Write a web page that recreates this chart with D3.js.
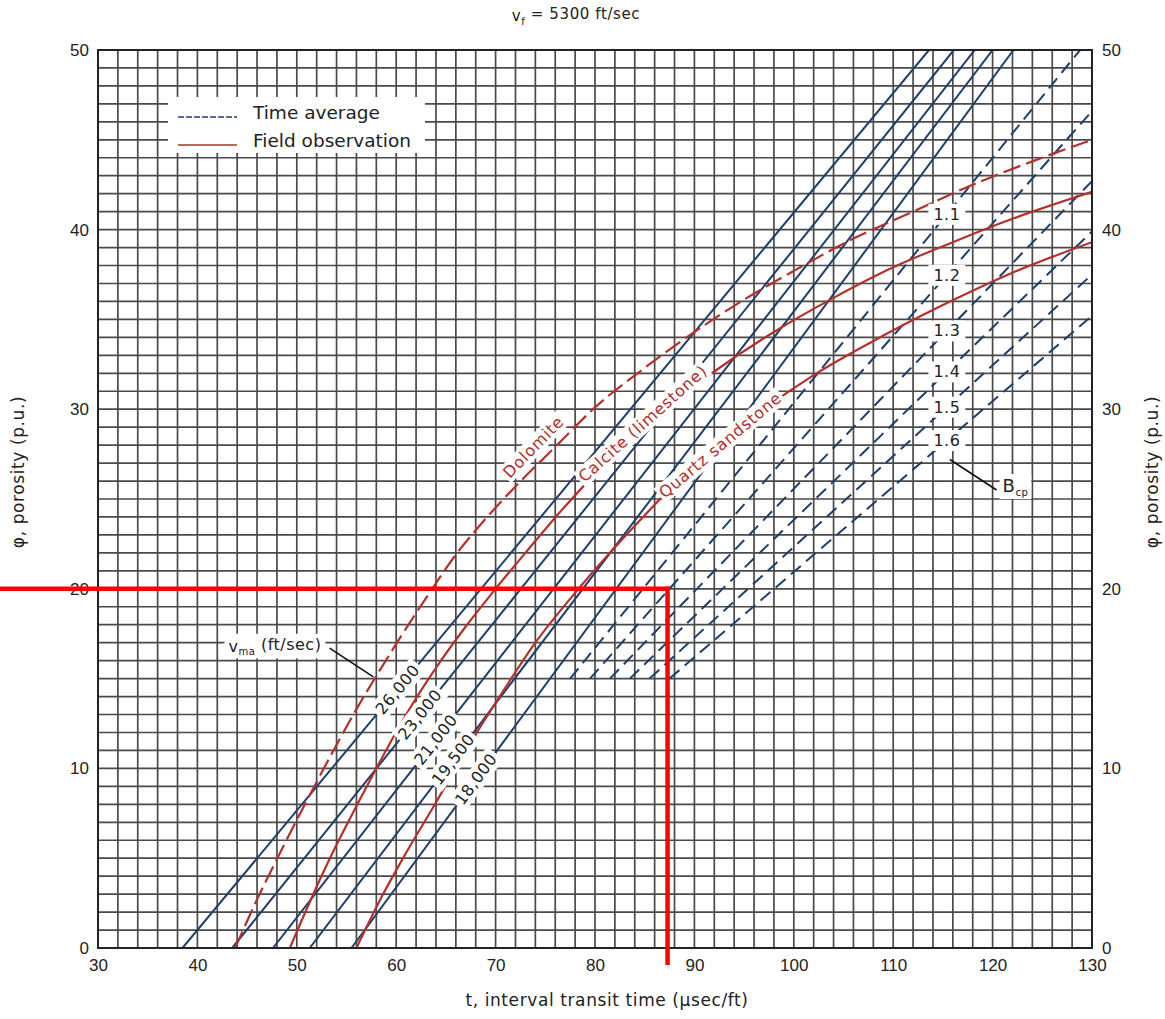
<!DOCTYPE html>
<html lang="en">
<head>
    <meta charset="UTF-8">
    <title>Porosity from interval transit time</title>
    <script src="https://cdn.jsdelivr.net/npm/d3@7/dist/d3.min.js"></script>
    <style>
        body { margin: 0; background: #fff; }
        svg { display: block; font-family: "DejaVu Sans", "Liberation Sans", Arial, sans-serif; }
        .grid line { stroke: #4a4a4a; stroke-width: 1.7px; }
        .frame { fill: none; stroke: #222; stroke-width: 2px; }
        .axis text { font-size: 17px; fill: #222; }
        .axis-title { font-size: 17px; fill: #222; letter-spacing: 0.6px; }
        .legend-text { font-size: 18.5px; fill: #222; }
        .mark-label { font-size: 16px; fill: #222; letter-spacing: 0.5px; }
        .rock-label { font-size: 16px; fill: #b0302a; letter-spacing: 0.8px; }
        .ta-line { fill: none; stroke: #1e3f6c; stroke-width: 2px; }
        .bcp-line { fill: none; stroke: #1e3f6c; stroke-width: 2px; stroke-dasharray: 13, 7; }
        .fo-line { fill: none; stroke: #b5302b; stroke-width: 2.2px; }
        .guide { stroke: #ff0000; stroke-width: 4.5px; }
    </style>
</head>
<body>
<svg id="chart"></svg>
<script>
    var width = 1165, height = 1019;

    // time-average lines, one per matrix velocity (ft/sec)
    var matrixVelocity = ["26,000", "23,000", "21,000", "19,500", "18,000"];
    var matrixTAtZero = [38.5, 43.5, 47.6, 51.3, 55.5];      // t where phi = 0
    var matrixTAtFifty = [113.6, 116.1, 118.2, 120.0, 122.1]; // t where phi = 50
    var matrixLabelPhi = [14.4, 13.0, 11.6, 10.5, 9.4];

    // compaction-corrected lines (sandstone), drawn from phi = 15
    var bcpValues = ["1.1", "1.2", "1.3", "1.4", "1.5", "1.6"];
    var bcpStartT = [77.5, 79.5, 81.5, 83.5, 85.5, 87.5];
    var bcpStartPhi = 15;
    var bcpEndT = [128.8, 130, 130, 130, 130, 130];
    var bcpEndPhi = [50, 46.6, 42.7, 39.9, 37.5, 35.2];
    var bcpLabelT = 115.4;

    // field observation curves
    var rockNames = ["Dolomite", "Calcite (limestone)", "Quartz sandstone"];
    var rockDashed = [true, false, false];
    var rockLabelT = [73.8, 84.8, 92.6];
    var rockLabelPhi = [27.9, 29.2, 28.0];
    var dolomiteT = [43.8, 46, 48.5, 51, 53.5, 56, 58.5, 61, 63.5, 66, 69, 72, 76, 80, 85, 90, 95, 100, 106, 112, 118, 124, 130];
    var dolomitePhi = [0, 2.7, 5.5, 8.2, 10.8, 13.3, 15.6, 17.8, 19.9, 21.9, 23.9, 25.7, 27.9, 30.1, 32.3, 34.3, 36.1, 37.7, 39.5, 41.0, 42.5, 43.8, 45.0];
    var calciteT = [49.3, 51.5, 53.6, 56, 58.1, 61, 64, 67, 70, 73, 77, 82, 87, 92, 98, 104, 110, 116, 122, 130];
    var calcitePhi = [0, 2.8, 5.3, 7.9, 10.1, 13.0, 15.6, 17.9, 20.0, 22.0, 24.6, 27.5, 30.0, 32.1, 34.3, 36.2, 37.9, 39.3, 40.6, 42.1];
    var quartzT = [56, 58.4, 61, 64, 67, 70.4, 74, 78.5, 84.5, 90, 96, 102, 108, 115, 122, 130];
    var quartzPhi = [0, 2.7, 5.3, 8.1, 11.0, 14.0, 17.0, 20.1, 23.8, 26.9, 29.6, 31.9, 33.8, 35.8, 37.6, 39.3];
    var rockT = [dolomiteT, calciteT, quartzT];
    var rockPhi = [dolomitePhi, calcitePhi, quartzPhi];

    var xTicks = [30, 40, 50, 60, 70, 80, 90, 100, 110, 120, 130];
    var yTicks = [0, 10, 20, 30, 40, 50];

    // reader's guide lines drawn over the chart
    var guideT = 87.3, guidePhi = 20;

    var svg = d3.select("#chart").attr("width", width).attr("height", height);
    svg.append("rect").attr("width", width).attr("height", height).attr("fill", "#fff");

    var x = d3.scaleLinear().domain([30, 130]).range([98, 1092]);
    var y = d3.scaleLinear().domain([0, 50]).range([948, 50]);

    // grid: 2 usec/ft by 1 p.u.
    var grid = svg.append("g").attr("class", "grid");
    grid.selectAll("line.v").data(d3.range(30, 131, 2)).enter().append("line")
            .attr("x1", function (d) { return x(d); }).attr("x2", function (d) { return x(d); })
            .attr("y1", y(0)).attr("y2", y(50));
    grid.selectAll("line.h").data(d3.range(0, 51, 1)).enter().append("line")
            .attr("y1", function (d) { return y(d); }).attr("y2", function (d) { return y(d); })
            .attr("x1", x(30)).attr("x2", x(130));

    svg.append("defs").append("clipPath").attr("id", "plot-clip")
            .append("rect").attr("x", x(30)).attr("y", y(50))
            .attr("width", x(130) - x(30)).attr("height", y(0) - y(50));

    var plot = svg.append("g").attr("clip-path", "url(#plot-clip)");
    var line = d3.line()
            .x(function (d) { return x(d[0]); })
            .y(function (d) { return y(d[1]); });

    // time average lines
    plot.selectAll("path.ta").data(matrixVelocity).enter().append("path")
            .attr("class", "ta-line")
            .attr("d", function (d, i) { return line([[matrixTAtZero[i], 0], [matrixTAtFifty[i], 50]]); });

    plot.selectAll("path.bcp").data(bcpValues).enter().append("path")
            .attr("class", "bcp-line")
            .attr("d", function (d, i) { return line([[bcpStartT[i], bcpStartPhi], [bcpEndT[i], bcpEndPhi[i]]]); });

    // field observation curves
    var curve = d3.line()
            .x(function (d) { return x(d[0]); })
            .y(function (d) { return y(d[1]); })
            .curve(d3.curveMonotoneX);
    plot.selectAll("path.fo").data(rockNames).enter().append("path")
            .attr("class", "fo-line")
            .attr("stroke-dasharray", function (d, i) { return rockDashed[i] ? "18,6" : null; })
            .attr("d", function (d, i) {
                return curve(rockT[i].map(function (t, j) { return [t, rockPhi[i][j]]; }));
            });

    svg.append("rect").attr("class", "frame")
            .attr("x", x(30)).attr("y", y(50))
            .attr("width", x(130) - x(30)).attr("height", y(0) - y(50));

    function phiOn(ts, ps, t) {
        var i = Math.max(1, Math.min(ts.length - 1, d3.bisectLeft(ts, t)));
        var k = (t - ts[i - 1]) / (ts[i] - ts[i - 1]);
        return ps[i - 1] + k * (ps[i] - ps[i - 1]);
    }

    function angleOf(x1, y1, x2, y2) {
        return Math.atan2(y2 - y1, x2 - x1) * 180 / Math.PI;
    }

    // label with an opaque white box behind it
    function boxedLabel(px, py, angle, cls, build, padX, padY) {
        var g = svg.append("g").attr("transform", "translate(" + px + "," + py + ") rotate(" + angle + ")");
        var rect = g.append("rect").attr("fill", "#fff");
        var text = g.append("text").attr("class", cls).attr("text-anchor", "middle").attr("dy", "0.35em");
        build(text);
        var b = text.node().getBBox();
        rect.attr("x", b.x - padX).attr("y", b.y - padY)
                .attr("width", b.width + 2 * padX).attr("height", b.height + 2 * padY);
        return g;
    }

    // matrix velocity labels sit on the time average lines
    matrixVelocity.forEach(function (v, i) {
        var p0 = [matrixTAtZero[i], 0], p1 = [matrixTAtFifty[i], 50];
        var phi = matrixLabelPhi[i];
        var t = p0[0] + (p1[0] - p0[0]) * phi / 50;
        var a = angleOf(x(p0[0]), y(p0[1]), x(p1[0]), y(p1[1]));
        boxedLabel(x(t), y(phi), a, "mark-label", function (tx) { tx.text(v); }, 3, 1);
    });

    // compaction factor labels
    bcpValues.forEach(function (v, i) {
        var k = (bcpLabelT - bcpStartT[i]) / (bcpEndT[i] - bcpStartT[i]);
        var phi = bcpStartPhi + k * (bcpEndPhi[i] - bcpStartPhi);
        boxedLabel(x(bcpLabelT), y(phi), 0, "mark-label", function (tx) { tx.text(v); }, 5, 1);
    });

    // rock names along their curves
    rockNames.forEach(function (name, i) {
        var t = rockLabelT[i];
        var ta = t - 4, tb = t + 4;
        var a = angleOf(x(ta), y(phiOn(rockT[i], rockPhi[i], ta)), x(tb), y(phiOn(rockT[i], rockPhi[i], tb)));
        boxedLabel(x(t), y(rockLabelPhi[i]), a, "rock-label", function (tx) { tx.text(name); }, 2, 0);
    });

    // v_ma callout
    var vmaText = [47.8, 16.8], vmaLeader = [[53.3, 16.7], [57.7, 15.1]];
    svg.append("path").attr("d", line(vmaLeader)).attr("stroke", "#111").attr("stroke-width", 1.6).attr("fill", "none");
    boxedLabel(x(vmaText[0]), y(vmaText[1]), 0, "mark-label", function (tx) {
        tx.append("tspan").text("v");
        tx.append("tspan").attr("font-size", "10px").attr("dy", "0.35em").text("ma");
        tx.append("tspan").attr("dy", "-0.35em").text(" (ft/sec)");
    }, 4, 1);

    // B_cp callout
    var bcpText = [122.3, 25.7], bcpLeader = [[115.7, 27.2], [120.4, 25.5]];
    svg.append("path").attr("d", line(bcpLeader)).attr("stroke", "#111").attr("stroke-width", 1.6).attr("fill", "none");
    boxedLabel(x(bcpText[0]), y(bcpText[1]), 0, "mark-label", function (tx) {
        tx.append("tspan").attr("font-size", "18px").text("B");
        tx.append("tspan").attr("font-size", "10px").attr("dy", "0.4em").text("cp");
    }, 3, 1);

    // legend
    svg.append("rect").attr("x", 168).attr("y", 97).attr("width", 257).attr("height", 56).attr("fill", "#fff");
    var legend = [["Time average", "#1e3f6c", "6,2"], ["Field observation", "#b5302b", null]];
    legend.forEach(function (d, i) {
        var ly = 117 + i * 28;
        svg.append("line").attr("x1", 178).attr("x2", 237).attr("y1", ly).attr("y2", ly)
                .attr("stroke", d[1]).attr("stroke-width", 1.6).attr("stroke-dasharray", d[2]);
        svg.append("text").attr("class", "legend-text").attr("x", 253).attr("y", ly).attr("dy", "0.1em").text(d[0]);
    });

    // axes
    var ax = svg.append("g").attr("class", "axis").attr("transform", "translate(0," + y(0) + ")")
            .call(d3.axisBottom(x).tickValues(xTicks).tickSize(0).tickPadding(11));
    var ayl = svg.append("g").attr("class", "axis").attr("transform", "translate(" + x(30) + ",0)")
            .call(d3.axisLeft(y).tickValues(yTicks).tickSize(0).tickPadding(9));
    var ayr = svg.append("g").attr("class", "axis").attr("transform", "translate(" + x(130) + ",0)")
            .call(d3.axisRight(y).tickValues(yTicks).tickSize(0).tickPadding(10));
    [ax, ayl, ayr].forEach(function (a) {
        a.select(".domain").remove();
        a.selectAll("text").attr("font-family", null).attr("font-size", null);
    });

    // titles
    var title = svg.append("text").attr("class", "axis-title").attr("x", 576).attr("y", 21)
            .attr("text-anchor", "middle").style("font-size", "15px");
    title.append("tspan").text("v");
    title.append("tspan").attr("font-size", "10px").attr("dy", "0.35em").text("f");
    title.append("tspan").attr("dy", "-0.35em").text(" = 5300 ft/sec");

    svg.append("text").attr("class", "axis-title").attr("x", 607).attr("y", 1006)
            .attr("text-anchor", "middle").text("t, interval transit time (\u00b5sec/ft)");

    [18, 1152].forEach(function (px) {
        svg.append("text").attr("class", "axis-title")
                .attr("transform", "translate(" + px + "," + 472 + ") rotate(-90)")
                .attr("text-anchor", "middle").attr("dy", "0.35em")
                .text("\u03c6, porosity (p.u.)");
    });

    // red guide lines
    svg.append("line").attr("class", "guide")
            .attr("x1", 0).attr("x2", x(guideT) + 2.2)
            .attr("y1", y(guidePhi)).attr("y2", y(guidePhi));
    svg.append("line").attr("class", "guide")
            .attr("x1", x(guideT)).attr("x2", x(guideT))
            .attr("y1", y(guidePhi) - 2.2).attr("y2", y(0) + 17);
</script>
</body>
</html>
